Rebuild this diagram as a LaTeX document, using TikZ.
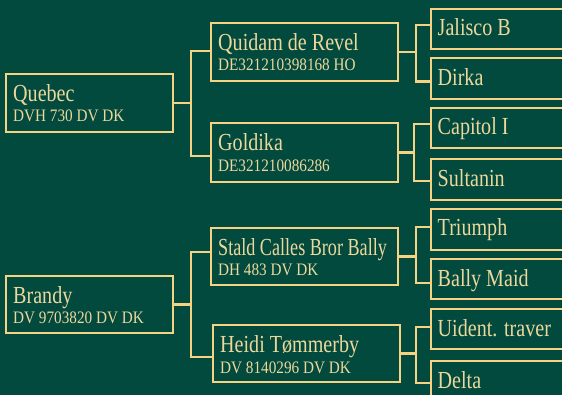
\documentclass[tikz,border=0pt]{standalone}
\usepackage{fontspec}
\setmainfont[FakeStretch=0.82]{Liberation Serif}
\newfontfamily\subfam[FakeStretch=0.87]{Liberation Serif}
\newfontfamily\narrowfam[FakeStretch=0.74]{Liberation Serif}
\definecolor{bg}{HTML}{024A3E}
\definecolor{gold}{HTML}{F5D382}
\definecolor{txt}{HTML}{EDD89C}
\newcommand{\nmfont}{\fontsize{24.5}{28}\selectfont}
\newcommand{\sbfont}{\subfam\fontsize{17.5}{20}\selectfont}
\tikzset{
  box/.style={draw=gold, line width=2.6pt, rectangle, anchor=north west, outer sep=0pt, inner sep=0pt},
  nm/.style={anchor=base west, inner sep=0pt, text=txt, font=\nmfont},
  sb/.style={anchor=base west, inner sep=0pt, text=txt, font=\sbfont},
  conn/.style={draw=gold, line width=2.6pt, line join=miter},
}
\begin{document}
\begin{tikzpicture}[x=1pt,y=-1pt]
\useasboundingbox (0,0) rectangle (562,395);
\fill[bg] (0,0) rectangle (562,395);
\clip (0,0) rectangle (562,395);
% generation 1
\node[box, minimum width=167pt, minimum height=58pt] (quebec) at (6,74) {};
\node[box, minimum width=167pt, minimum height=57pt] (brandy) at (6,276) {};
% generation 2
\node[box, minimum width=187pt, minimum height=58pt] (quidam) at (211,23) {};
\node[box, minimum width=187pt, minimum height=59pt] (goldika) at (211,123) {};
\node[box, minimum width=187pt, minimum height=57pt] (stald) at (211,228) {};
\node[box, minimum width=187pt, minimum height=57pt] (heidi) at (213,325) {};
% generation 3
\node[box, minimum width=150pt, minimum height=40pt] (jalisco) at (431,9) {};
\node[box, minimum width=150pt, minimum height=41pt] (dirka) at (431,58) {};
\node[box, minimum width=150pt, minimum height=40pt] (capitol) at (431,108) {};
\node[box, minimum width=150pt, minimum height=41pt] (sultanin) at (431,159) {};
\node[box, minimum width=150pt, minimum height=41pt] (triumph) at (431,209) {};
\node[box, minimum width=150pt, minimum height=40pt] (ballymaid) at (431,259) {};
\node[box, minimum width=150pt, minimum height=40pt] (uident) at (431,309) {};
\node[box, minimum width=150pt, minimum height=41pt] (delta) at (431,361) {};
% texts
\node[nm] (quebec-n) at ([xshift=7pt,yshift=-27.5pt]quebec.north west) {Quebec};
\node[sb] (quebec-s) at ([xshift=7pt,yshift=-48pt]quebec.north west) {DVH 730 DV DK};
\node[nm] (brandy-n) at ([xshift=7pt,yshift=-27pt]brandy.north west) {Brandy};
\node[sb] (brandy-s) at ([xshift=7pt,yshift=-47.5pt]brandy.north west) {DV 9703820 DV DK};
\node[nm] (quidam-n) at ([xshift=7pt,yshift=-28pt]quidam.north west) {Quidam de Revel};
\node[sb] (quidam-s) at ([xshift=7pt,yshift=-47.5pt]quidam.north west) {DE321210398168 HO};
\node[nm] (goldika-n) at ([xshift=7pt,yshift=-27.5pt]goldika.north west) {Goldika};
\node[sb] (goldika-s) at ([xshift=7pt,yshift=-48.5pt]goldika.north west) {DE321210086286};
\node[nm] (stald-n) at ([xshift=7pt,yshift=-27.5pt]stald.north west) {\narrowfam Stald Calles Bror Bally};
\node[sb] (stald-s) at ([xshift=7pt,yshift=-47.5pt]stald.north west) {DH 483 DV DK};
\node[nm] (heidi-n) at ([xshift=7pt,yshift=-27.5pt]heidi.north west) {Heidi Tømmerby};
\node[sb] (heidi-s) at ([xshift=7pt,yshift=-48pt]heidi.north west) {DV 8140296 DV DK};
\node[nm] (jalisco-n) at ([xshift=6.5pt,yshift=-26.5pt]jalisco.north west) {Jalisco B};
\node[nm] (dirka-n) at ([xshift=6.5pt,yshift=-27.5pt]dirka.north west) {Dirka};
\node[nm] (capitol-n) at ([xshift=6.5pt,yshift=-27pt]capitol.north west) {Capitol I};
\node[nm] (sultanin-n) at ([xshift=6.5pt,yshift=-27.5pt]sultanin.north west) {Sultanin};
\node[nm] (triumph-n) at ([xshift=6.5pt,yshift=-27pt]triumph.north west) {Triumph};
\node[nm] (ballymaid-n) at ([xshift=6.5pt,yshift=-27.5pt]ballymaid.north west) {Bally Maid};
\node[nm] (uident-n) at ([xshift=6.5pt,yshift=-27pt]uident.north west) {Uident. traver};
\node[nm] (delta-n) at ([xshift=6.5pt,yshift=-27.5pt]delta.north west) {Delta};
% connectors
\draw[conn] (quebec.east) -- ++(18,0) coordinate (qv);
\draw[conn] ([yshift=1pt]quidam.west) -| (qv) |- ([yshift=-3.5pt]goldika.west);
\draw[conn] (brandy.east) -- ++(18,0) coordinate (bv);
\draw[conn] ([yshift=4.5pt]stald.west) -| (bv) |- ([yshift=-3.5pt]heidi.west);
\draw[conn] (quidam.east) -- ++(18,0) coordinate (qdv);
\draw[conn] ([yshift=4pt]jalisco.west) -| (qdv) |- ([yshift=-3pt]dirka.west);
\draw[conn] (goldika.east) -- ++(16,0) coordinate (gv);
\draw[conn] ([yshift=4pt]capitol.west) -| (gv) |- ([yshift=-1.5pt]sultanin.west);
\draw[conn] (stald.east) -- ++(18,0) coordinate (sv);
\draw[conn] ([yshift=2.5pt]triumph.west) -| (sv) |- ([yshift=-4pt]ballymaid.west);
\draw[conn] (heidi.east) -- ++(16,0) coordinate (hv);
\draw[conn] ([yshift=2pt]uident.west) -| (hv) |- ([yshift=-1.5pt]delta.west);
\end{tikzpicture}
\end{document}
